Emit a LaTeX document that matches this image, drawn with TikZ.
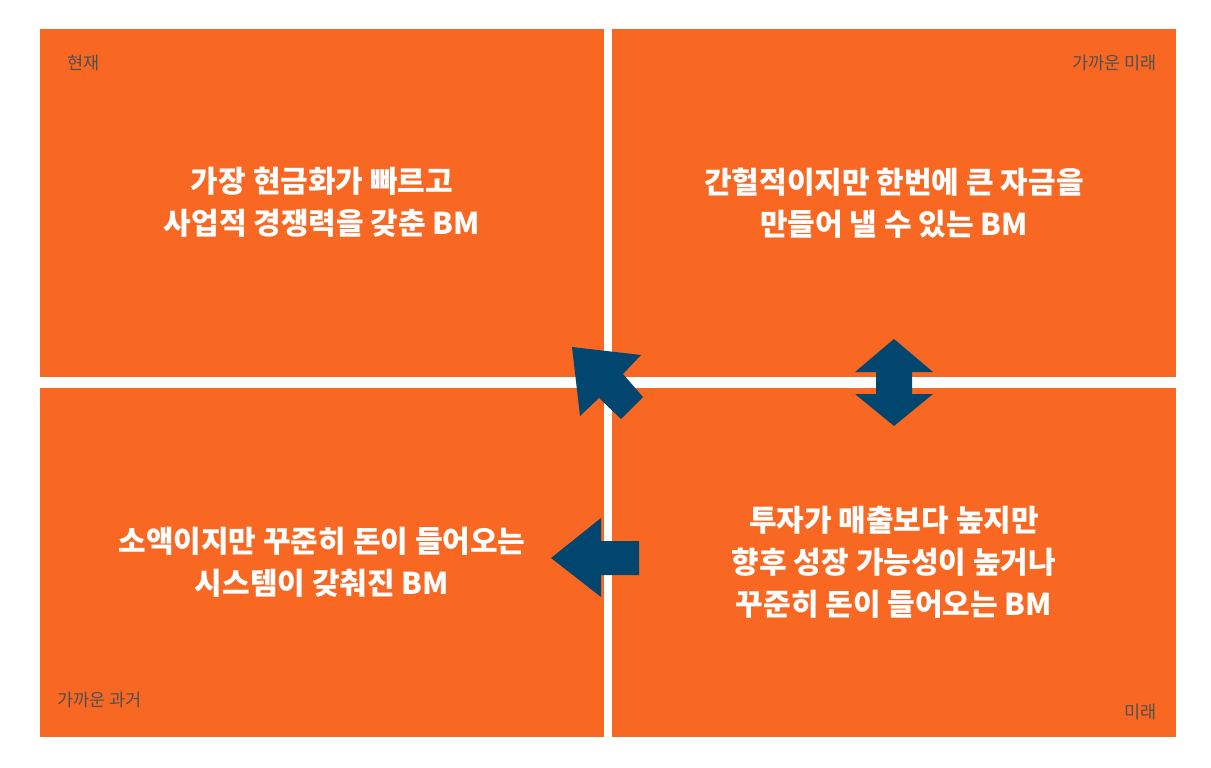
\documentclass[tikz,border=0pt]{standalone}
\usepackage{fontspec}
\usepackage{xcolor}
\newfontfamily\kofont{Noto Sans CJK KR}
\definecolor{bmorange}{HTML}{F96822}
\definecolor{bmnavy}{HTML}{01466F}
\definecolor{bmgray}{HTML}{4F4F4F}

\begin{document}
\begin{tikzpicture}[x=1pt, y=-1pt, font=\kofont]
	\useasboundingbox (0,0) rectangle (1211,768);
	% Define styles
	\tikzstyle{quad}=[rectangle, fill=bmorange, minimum width=564pt, minimum height=348pt, inner sep=0pt]
	\tikzstyle{bm}=[align=center, text=white, inner sep=0pt, font=\kofont\fontsize{30}{42}\selectfont\bfseries]
	\tikzstyle{when}=[text=bmgray, inner sep=0pt, font=\kofont\fontsize{17.5}{20}\selectfont]
	\tikzstyle{arr}=[fill=bmnavy, draw=none]

	\node[quad] (now) at (322,203) {};
	\node[quad] (soon) at (894,203) {};
	\node[quad, minimum height=349pt] (past) at (322,562.5) {};
	\node[quad, minimum height=349pt] (later) at (894,562.5) {};

	\node[when, anchor=west] (nowlab) at (67,63) {현재};
	\node[when, anchor=east] (soonlab) at (1157,63) {가까운 미래};
	\node[when, anchor=west] (pastlab) at (57,700) {가까운 과거};
	\node[when, anchor=east] (laterlab) at (1157,712) {미래};

		\node[bm] (nowtxt) at (322,202) {가장 현금화가 빠르고\\사업적 경쟁력을 갖춘 BM};
		\node[bm] (soontxt) at (894,203) {간헐적이지만 한번에 큰 자금을\\만들어 낼 수 있는 BM};
		\node[bm] (pasttxt) at (322,562) {소액이지만 꾸준히 돈이 들어오는\\시스템이 갖춰진 BM};
		\node[bm] (latertxt) at (894,562) {투자가 매출보다 높지만\\향후 성장 가능성이 높거나\\꾸준히 돈이 들어오는 BM};

	% arrows
	\fill[arr] (572,347) -- (641,355) -- (623,374) -- (643,397) -- (621,419) -- (599,398) -- (580,416) -- cycle;
	\fill[arr] (894,339) -- (933,372) -- (912,372) -- (912,394) -- (933,394) -- (894,426) -- (855,394) -- (876,394) -- (876,372) -- (855,372) -- cycle;
	\fill[arr] (551,558) -- (601,518) -- (601,541) -- (639,541) -- (639,575) -- (601,575) -- (601,597) -- cycle;
\end{tikzpicture}
\end{document}
